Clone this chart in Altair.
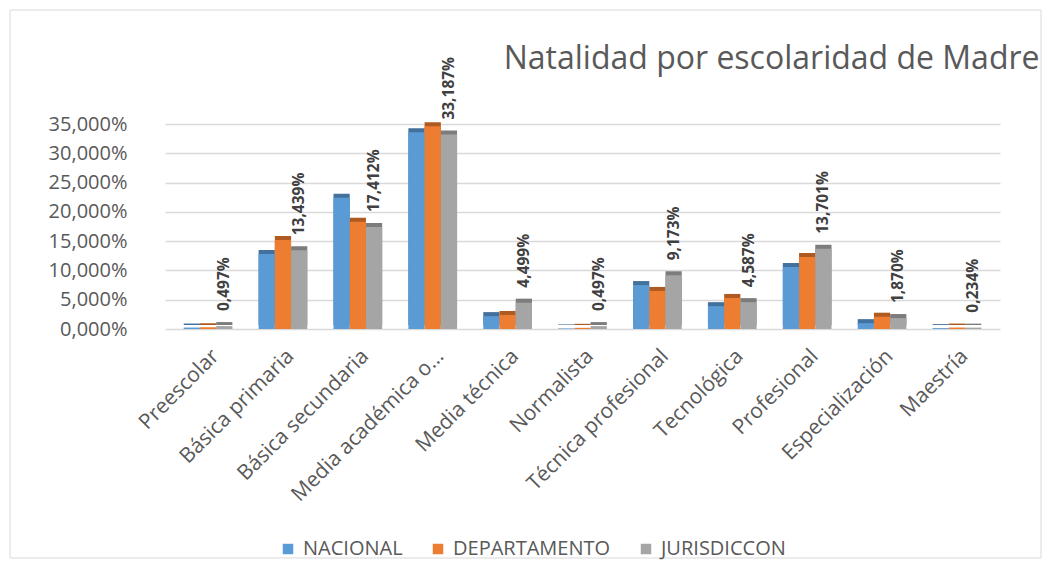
import altair as alt
import pandas as pd

categories = ["Preescolar", "Básica primaria", "Básica secundaria", "Media académica o…",
              "Media técnica", "Normalista", "Técnica profesional", "Tecnológica",
              "Profesional", "Especialización", "Maestría"]
series = ["NACIONAL", "DEPARTAMENTO", "JURISDICCON"]
nacional = [0.25, 12.8, 22.4, 33.6, 2.2, 0.1, 7.5, 3.9, 10.6, 1.0, 0.15]
departamento = [0.3, 15.2, 18.3, 34.6, 2.4, 0.2, 6.5, 5.3, 12.3, 2.1, 0.25]
jurisdiccon = [0.497, 13.439, 17.412, 33.187, 4.499, 0.497, 9.173, 4.587, 13.701, 1.870, 0.234]
y_ticks = [0, 5, 10, 15, 20, 25, 30, 35]
colors = ["#5B9BD5", "#ED7D31", "#A5A5A5"]
dark_colors = ["#41719C", "#AE5A21", "#7C7C7C"]

rows = []
for s, vals in zip(series, [nacional, departamento, jurisdiccon]):
    for c, v in zip(categories, vals):
        rows.append({"cat": c, "series": s, "value": v})
df = pd.DataFrame(rows)

FONT = "Open Sans"
TXT = "#595959"

x_enc = alt.X("cat:N", sort=categories,
              scale=alt.Scale(paddingInner=0.35, paddingOuter=0.25),
              axis=alt.Axis(title=None, labelAngle=-45, labelFontSize=21, labelColor=TXT,
                            labelFont=FONT, domain=False, ticks=False, labelPadding=16,
                            grid=False, labelLimit=400))
xo_enc = alt.XOffset("series:N", sort=series, scale=alt.Scale(paddingInner=0, paddingOuter=0))
y_enc = alt.Y("value:Q", scale=alt.Scale(domain=[0, 35], nice=False),
              axis=alt.Axis(title=None, values=y_ticks,
                            labelExpr="replace(format(datum.value, '.3f'), '.', ',') + '%'",
                            labelFontSize=20, labelColor=TXT, labelFont=FONT,
                            domain=False, ticks=False, labelPadding=38,
                            gridColor="#D9D9D9", gridWidth=1.5))

base = alt.Chart(df)

shadow = base.mark_bar(xOffset=4, yOffset=-4).encode(
    x=x_enc, xOffset=xo_enc, y=y_enc,
    color=alt.Color("series:N", sort=series,
                    scale=alt.Scale(domain=series, range=dark_colors), legend=None),
)

bars = base.mark_bar().encode(
    x=x_enc, xOffset=xo_enc, y=y_enc,
    color=alt.Color("series:N", sort=series,
                    scale=alt.Scale(domain=series, range=colors),
                    legend=alt.Legend(title=None, orient="none", direction="horizontal",
                                      legendX=113, legendY=415, symbolType="square",
                                      symbolSize=110, symbolStrokeWidth=0,
                                      labelFontSize=20, labelColor=TXT, labelFont=FONT,
                                      columnPadding=25, labelOffset=5)),
)

labels = base.transform_filter(alt.datum.series == "JURISDICCON").transform_calculate(
    lab="replace(format(datum.value, '.3f'), '.', ',') + '%'"
).mark_text(angle=270, align="left", baseline="middle", dx=15, fontWeight="bold",
            fontSize=15.5, color="#404040", font=FONT).encode(
    x=x_enc, xOffset=xo_enc, y=y_enc, text="lab:N")

border = alt.Chart(alt.Data(values=[{}])).mark_rect(
    fillOpacity=0, stroke="#D9D9D9", strokeWidth=1).encode(
    x=alt.value(-155), x2=alt.value(876), y=alt.value(-114), y2=alt.value(434))

chart = alt.layer(border, shadow, bars, labels).resolve_scale(color="independent").properties(
    width=835, height=205,
    padding={"left": 157, "top": 116, "right": 44, "bottom": 238},
    autosize=alt.AutoSizeParams(type="none"),
    background="white",
    title=alt.TitleParams("Natalidad por escolaridad de Madre", anchor="end", fontSize=32,
                          font=FONT, fontWeight="normal", color=TXT, offset=-66, dx=-2),
).configure_view(stroke=None)

chart.save("out.html", embed_options={"renderer": "svg", "actions": False})
